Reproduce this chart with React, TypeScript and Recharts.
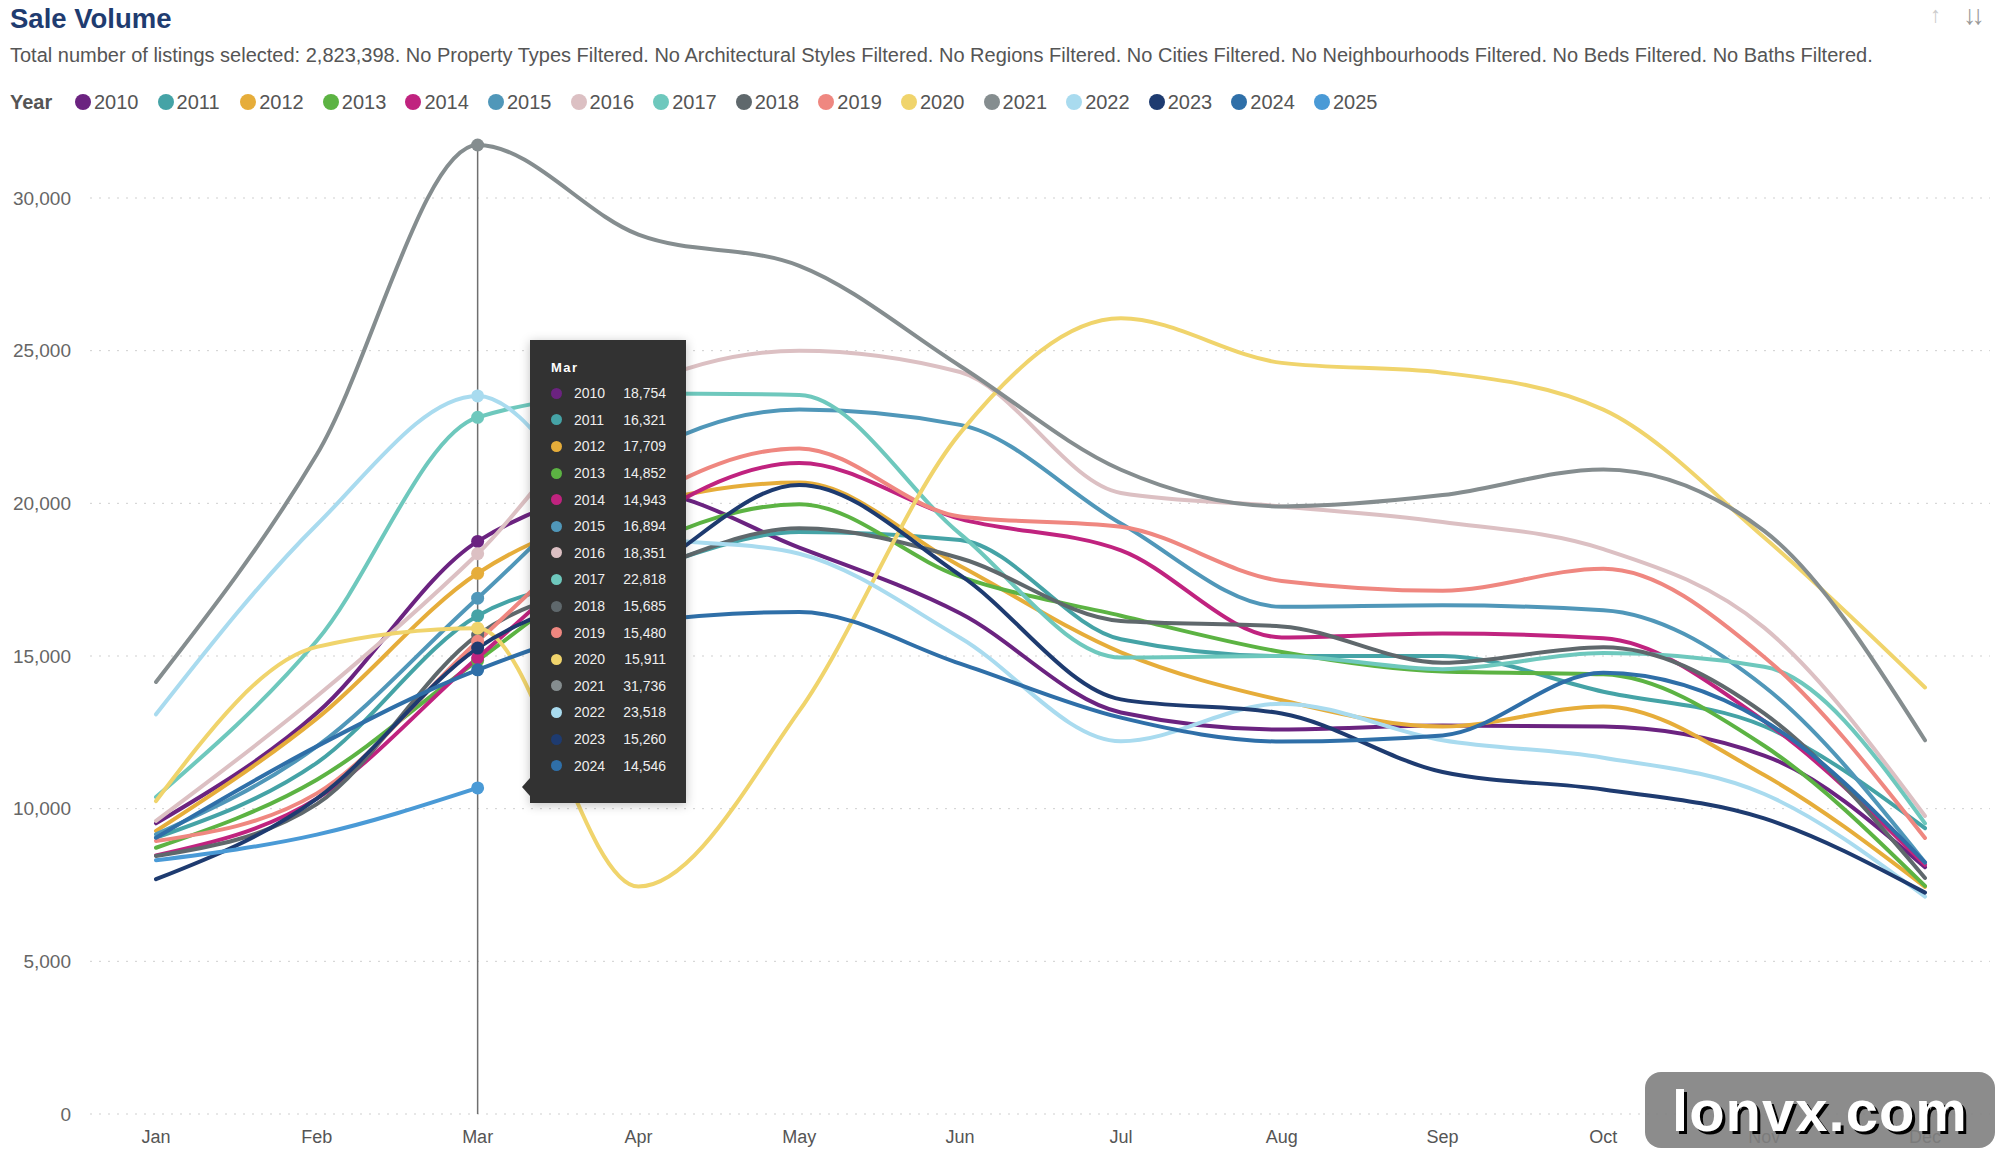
import React from 'react';
import { LineChart, Line, XAxis, YAxis, ReferenceLine, Tooltip } from 'recharts';

const FONT = '"Liberation Sans", Arial, Helvetica, sans-serif';

const months = ['Jan', 'Feb', 'Mar', 'Apr', 'May', 'Jun', 'Jul', 'Aug', 'Sep', 'Oct', 'Nov', 'Dec'];
const years = ['2010', '2011', '2012', '2013', '2014', '2015', '2016', '2017', '2018', '2019', '2020', '2021', '2022', '2023', '2024', '2025'];
const colors = [
  '#6b2380', '#45a3a6', '#e6ad3a', '#5cb343', '#c0237f', '#5097b9', '#dcc0c3', '#6ec8bd',
  '#5f686c', '#ef8780', '#f0d46c', '#858d8f', '#a9dbef', '#1e3b70', '#2f6fa8', '#4a9ad6',
];

// monthly sale volume per year
const y2010 = [9520, 13130, 18754, 20400, 18550, 16400, 13150, 12590, 12720, 12690, 11740, 8080];
const y2011 = [9050, 11500, 16321, 17800, 19060, 18800, 15550, 15000, 15000, 13830, 12700, 9360];
const y2012 = [9270, 12950, 17709, 19900, 20680, 17950, 15120, 13550, 12690, 13350, 11100, 7440];
const y2013 = [8720, 10950, 14852, 18500, 19970, 17600, 16320, 15130, 14490, 14400, 12060, 7470];
const y2014 = [8470, 10330, 14943, 19300, 21320, 19490, 18460, 15610, 15740, 15580, 12870, 8160];
const y2015 = [9160, 12040, 16894, 21500, 23070, 22570, 19340, 16610, 16660, 16500, 14000, 8240];
const y2016 = [9600, 13680, 18351, 23800, 25000, 24300, 20340, 19900, 19390, 18500, 15930, 9760];
const y2017 = [10380, 15500, 22818, 23600, 23550, 19000, 14950, 15000, 14570, 15100, 14650, 9520];
const y2018 = [8450, 10150, 15685, 17700, 19180, 18200, 16150, 15970, 14780, 15290, 13120, 7730];
const y2019 = [8940, 10500, 15480, 20000, 21800, 19570, 19230, 17460, 17140, 17860, 14970, 9040];
const y2020 = [10250, 15300, 15911, 7450, 13200, 22300, 26060, 24600, 24280, 23070, 18880, 13970];
const y2021 = [14150, 21600, 31736, 28800, 27780, 24500, 21100, 19900, 20270, 21110, 19100, 12240];
const y2022 = [13090, 19300, 23518, 19000, 18350, 15600, 12210, 13440, 12240, 11670, 10480, 7120];
const y2023 = [7690, 10330, 15260, 17600, 20600, 17650, 13580, 13120, 11200, 10630, 9680, 7250];
const y2024 = [9050, 12040, 14546, 16100, 16440, 14750, 12980, 12200, 12400, 14450, 12870, 8240];
const y2025 = [8310, 9150, 10680];

const series = [y2010, y2011, y2012, y2013, y2014, y2015, y2016, y2017, y2018, y2019, y2020, y2021, y2022, y2023, y2024, y2025];
const yTicks = [0, 5000, 10000, 15000, 20000, 25000, 30000];
const tooltipYears = years.slice(0, 15);

const data = months.map((m, i) => {
  const row: Record<string, string | number> = { month: m };
  years.forEach((yr, k) => {
    if (series[k][i] !== undefined) row[yr] = series[k][i];
  });
  return row;
});

function TipBox({ active, payload, label }: any) {
  if (!active || !payload || !payload.length) return null;
  const rows = payload.filter((p: any) => tooltipYears.includes(String(p.name)));
  return (
    <div style={{ position: 'relative', width: 156, height: 463, background: '#323232', boxShadow: '0 2px 10px rgba(0,0,0,0.25)', color: '#fff', fontFamily: FONT }}>
      <div style={{ position: 'absolute', left: 21, top: 20, fontSize: 13, fontWeight: 'bold', letterSpacing: 1.5, lineHeight: '16px' }}>{label}</div>
      <div style={{ position: 'absolute', left: 0, top: 40, width: 156 }}>
        {rows.map((p: any) => (
          <div key={p.name} style={{ display: 'flex', alignItems: 'center', height: 26.6, fontSize: 14 }}>
            <span style={{ marginLeft: 21, width: 11, height: 11, borderRadius: '50%', background: p.color, display: 'inline-block' }} />
            <span style={{ marginLeft: 12, width: 40, color: '#eee' }}>{p.name}</span>
            <span style={{ width: 52, textAlign: 'right', color: '#eee' }}>{Number(p.value).toLocaleString('en-US')}</span>
          </div>
        ))}
      </div>
      <div style={{ position: 'absolute', left: -8, top: 438, width: 0, height: 0, borderTop: '9px solid transparent', borderBottom: '9px solid transparent', borderRight: '8px solid #323232' }} />
    </div>
  );
}

export default function App() {
  return (
    <div style={{ position: 'relative', width: 1999, height: 1160, overflow: 'hidden', background: '#fff', fontFamily: FONT }}>
      <style>{'body{margin:0;}'}</style>
      <div style={{ position: 'absolute', left: 10, top: 4, fontSize: 27.5, fontWeight: 'bold', color: '#1f3c70', lineHeight: '30px' }}>Sale Volume</div>
      <div style={{ position: 'absolute', left: 1930, top: 2, fontSize: 22, color: '#ccc' }}>↑</div>
      <div style={{ position: 'absolute', left: 1963, top: 0, fontSize: 27, color: '#999', letterSpacing: -5 }}>↓↓</div>
      <div style={{ position: 'absolute', left: 10, top: 43, fontSize: 20, color: '#555', lineHeight: '24px', whiteSpace: 'nowrap' }}>
        Total number of listings selected: 2,823,398. No Property Types Filtered. No Architectural Styles Filtered. No Regions Filtered. No Cities Filtered. No Neighbourhoods Filtered. No Beds Filtered. No Baths Filtered.
      </div>
      <div style={{ position: 'absolute', left: 10, top: 90, height: 24, display: 'flex', alignItems: 'center', fontSize: 20, color: '#555', whiteSpace: 'nowrap' }}>
        <span style={{ fontWeight: 'bold', width: 65 }}>Year</span>
        {years.map((yr, k) => (
          <span key={yr} style={{ display: 'inline-flex', alignItems: 'center', width: 82.6 }}>
            <span style={{ width: 16, height: 16, borderRadius: '50%', background: colors[k], display: 'inline-block', marginRight: 3 }} />
            <span>{yr}</span>
          </span>
        ))}
      </div>

      <div style={{ position: 'absolute', left: 0, top: 0 }}>
        <LineChart width={1999} height={1160} data={data} margin={{ top: 145, right: 9, bottom: 16, left: 0 }}>
          {yTicks.map((t) => (
            <ReferenceLine key={t} y={t} stroke="#cfcfcf" strokeDasharray="2 7" />
          ))}
          <XAxis
            dataKey="month"
            axisLine={false}
            tickLine={false}
            tickSize={0}
            tickMargin={16}
            height={30}
            padding={{ left: 66, right: 65 }}
            tick={{ fontSize: 18, fill: '#555', fontFamily: FONT }}
            interval={0}
          />
          <YAxis
            domain={[0, 'dataMax']}
            ticks={yTicks}
            axisLine={false}
            tickLine={false}
            tickSize={0}
            tickMargin={19}
            width={90}
            tickFormatter={(v: number) => v.toLocaleString('en-US')}
            tick={{ fontSize: 19, fill: '#666', fontFamily: FONT }}
          />
          <Tooltip
            active={true}
            defaultIndex={2}
            position={{ x: 530, y: 340 }}
            isAnimationActive={false}
            cursor={{ stroke: '#6f6f6f', strokeWidth: 1.5 }}
            content={<TipBox />}
            wrapperStyle={{ zIndex: 5, outline: 'none' }}
          />
          {years.map((yr, k) => (
            <Line
              key={yr}
              type="monotone"
              dataKey={yr}
              name={yr}
              stroke={colors[k]}
              strokeWidth={4}
              strokeLinecap="round"
              dot={false}
              activeDot={{ r: 6.5, strokeWidth: 0, fill: colors[k] }}
              isAnimationActive={false}
            />
          ))}
        </LineChart>
      </div>

      <div style={{ position: 'absolute', left: 1645, top: 1072, width: 350, height: 76, borderRadius: 16, background: 'rgba(128,128,128,0.9)', display: 'flex', alignItems: 'center', justifyContent: 'center', zIndex: 10 }}>
        <span style={{ fontSize: 58, fontWeight: 'bold', color: '#fff', textShadow: '3px 3px 0 #000', fontFamily: FONT, letterSpacing: 1 }}>lonvx.com</span>
      </div>
    </div>
  );
}
